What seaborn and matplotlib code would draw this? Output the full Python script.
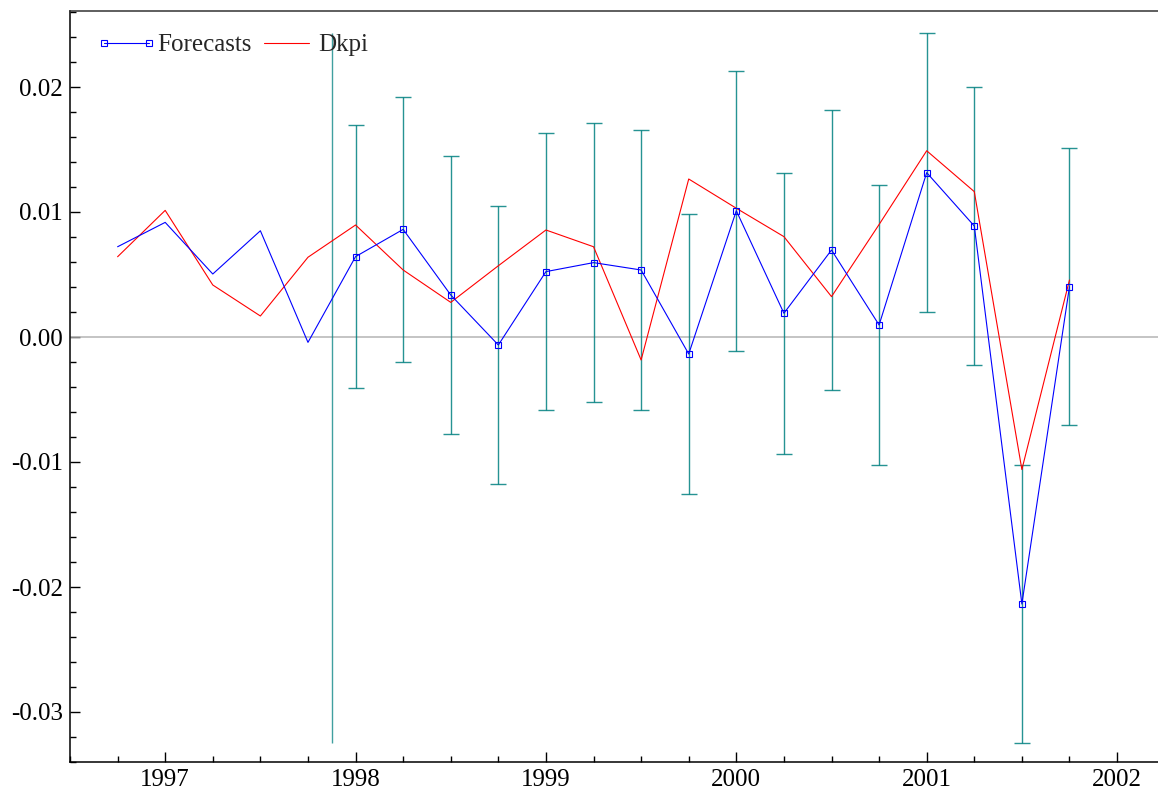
import numpy as np
import pandas as pd
import seaborn as sns
import matplotlib
matplotlib.use("Agg")
import matplotlib.pyplot as plt
from matplotlib.lines import Line2D
from matplotlib.ticker import MultipleLocator, FormatStrFormatter

# quarterly dates, 1996Q4 .. 2001Q4
dates = [1996.75, 1997.0, 1997.25, 1997.5, 1997.75,
         1998.0, 1998.25, 1998.5, 1998.75,
         1999.0, 1999.25, 1999.5, 1999.75,
         2000.0, 2000.25, 2000.5, 2000.75,
         2001.0, 2001.25, 2001.5, 2001.75]

# fitted values up to 1997Q4, then forecasts
forecasts = [0.00722, 0.00917, 0.00504, 0.0085, -0.00043,
             0.00643, 0.00861, 0.00336, -0.00064,
             0.00523, 0.00595, 0.00536, -0.00136,
             0.0101, 0.0019, 0.00696, 0.00096,
             0.01315, 0.00888, -0.02136, 0.00403]

dkpi = [0.00642, 0.01013, 0.00416, 0.00168, 0.00638,
        0.00896, 0.00536, 0.00277, 0.0057,
        0.00856, 0.00722, -0.00184, 0.01264,
        0.0103, 0.00803, 0.00323, 0.009,
        0.0149, 0.01163, -0.0106, 0.00456]

# half width of the forecast error bands (from 1998Q1 on)
band = [0.01053, 0.0106, 0.01114, 0.0111,
        0.0111, 0.01117, 0.0112, 0.0112,
        0.0112, 0.01125, 0.0112, 0.01117,
        0.01117, 0.0111, 0.01114, 0.01107]

n_fit = 5  # first forecast index
forecast_start = 1997.875

df = pd.DataFrame({"date": dates, "Forecasts": forecasts, "Dkpi": dkpi})
fc = df.iloc[n_fit:].copy()
fc["band"] = band

sns.set_style("ticks")
plt.rcParams["font.family"] = ["Liberation Serif", "DejaVu Serif"]
plt.rcParams["axes.unicode_minus"] = False

fig = plt.figure(figsize=(11.58, 7.96), dpi=100)
ax = fig.add_axes([70 / 1158, 1 - 762 / 796, 1 - 70 / 1158, (762 - 11) / 796])

teal = "#008080"
ax.axhline(0, color="#b4b4b4", lw=1.1, zorder=1)

# vertical line at forecast origin, spanning the bands
lo = (fc["Forecasts"] - fc["band"]).min()
hi = (fc["Forecasts"] + fc["band"]).max()
ax.vlines(forecast_start, lo, hi, color=teal, lw=1.0, alpha=0.75, zorder=2)

ax.errorbar(fc["date"], fc["Forecasts"], yerr=fc["band"], fmt="none",
            ecolor=teal, elinewidth=1.0, capsize=5.5, capthick=1.0,
            alpha=0.85, zorder=2)

sns.lineplot(data=df, x="date", y="Dkpi", color="red", lw=0.8, ax=ax,
             zorder=3, legend=False)
sns.lineplot(data=df, x="date", y="Forecasts", color="blue", lw=0.8, ax=ax,
             zorder=4, legend=False)
ax.plot(fc["date"], fc["Forecasts"], ls="none", marker="s", ms=4.4,
        mfc="none", mec="blue", mew=0.8, zorder=5)

ax.set_xlim(1996.5, 2002.215)
ax.set_ylim(-0.034, 0.02608)
ax.set_xlabel("")
ax.set_ylabel("")

ax.xaxis.set_major_locator(MultipleLocator(1))
ax.xaxis.set_minor_locator(MultipleLocator(0.25))
ax.xaxis.set_major_formatter(FormatStrFormatter("%d"))
ax.yaxis.set_major_locator(MultipleLocator(0.01))
ax.yaxis.set_minor_locator(MultipleLocator(0.002))
ax.yaxis.set_major_formatter(FormatStrFormatter("%.2f"))

ax.tick_params(which="both", direction="in", top=False, right=False,
               labelsize=18, colors="black", width=1.0)
ax.tick_params(which="major", length=7.5, pad=5)
ax.tick_params(which="minor", length=4)

for side in ["left", "bottom", "top"]:
    ax.spines[side].set_visible(True)
    ax.spines[side].set_linewidth(1.1)
    ax.spines[side].set_color("black")
ax.spines["top"].set_color("#333333")
ax.spines["right"].set_visible(False)

handles = [
    Line2D([], [], color="blue", lw=0.8, marker="s", ms=4.4, mfc="none",
           mec="blue", mew=0.8),
    Line2D([], [], color="red", lw=0.8),
]
ax.legend(handles, ["Forecasts", "Dkpi"], loc="upper left", ncol=2,
          frameon=False, numpoints=2, fontsize=18, handlelength=2.4,
          handletextpad=0.05, columnspacing=0.2, borderaxespad=0.3,
          bbox_to_anchor=(0.008, 0.993))

fig.savefig("out.png", dpi=100)
